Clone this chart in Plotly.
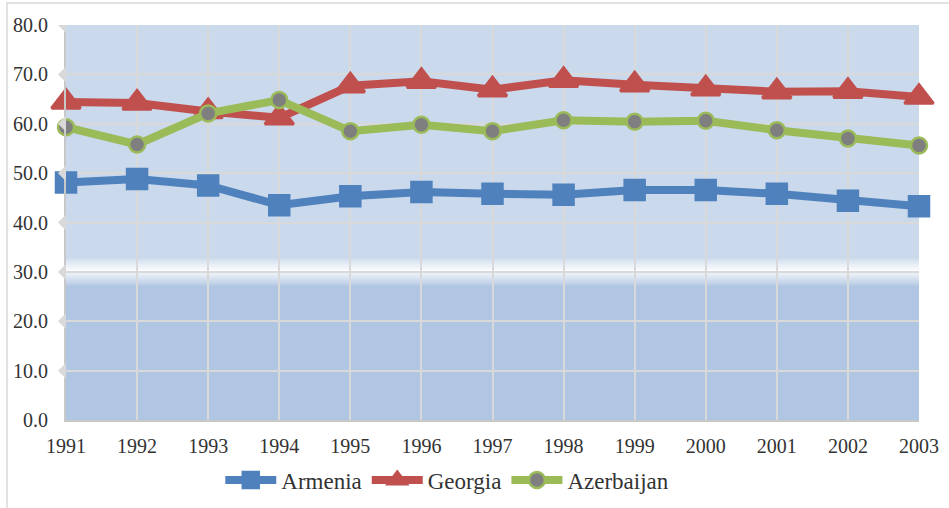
import plotly.graph_objects as go

years = ["1991", "1992", "1993", "1994", "1995", "1996", "1997",
         "1998", "1999", "2000", "2001", "2002", "2003"]
armenia = [48.1, 48.8, 47.5, 43.5, 45.3, 46.2, 45.8, 45.6, 46.6, 46.6, 45.8, 44.4, 43.3]
georgia = [64.4, 64.2, 62.5, 61.2, 67.7, 68.6, 66.9, 68.8, 67.9, 67.1, 66.5, 66.6, 65.4]
azerbaijan = [59.3, 55.8, 62.1, 64.8, 58.5, 59.8, 58.5, 60.7, 60.4, 60.6, 58.7, 57.0, 55.6]
y_ticks = [0, 10, 20, 30, 40, 50, 60, 70, 80]

FONT = "Liberation Serif"
TXT = "#333333"
UPPER = (202, 217, 235)
LOWER = (177, 198, 226)
GRID = "#D9D9D9"

fig = go.Figure()
fig.add_trace(go.Scatter(
    x=years, y=armenia, name="Armenia", mode="lines+markers",
    line=dict(color="#4F81BD", width=8),
    marker=dict(symbol="square", size=20, color="#4F81BD",
                line=dict(color="#4F81BD", width=2.5)),
    cliponaxis=False))
fig.add_trace(go.Scatter(
    x=years, y=georgia, name="Georgia", mode="lines+markers",
    line=dict(color="#C0504D", width=8),
    marker=dict(symbol="triangle-up", size=25, color="#C0504D",
                line=dict(color="#C0504D", width=3)),
    cliponaxis=False))
fig.add_trace(go.Scatter(
    x=years, y=azerbaijan, name="Azerbaijan", mode="lines+markers",
    line=dict(color="#9BBB59", width=8),
    marker=dict(symbol="circle", size=16, color="#7F7F7F",
                line=dict(color="#9BBB59", width=2.5)),
    cliponaxis=False))

shapes = []
shapes.append(dict(type="rect", xref="paper", yref="y", x0=0, x1=1, y0=0, y1=30,
                   fillcolor="rgb(%d,%d,%d)" % LOWER, line=dict(width=0), layer="below"))
half = 2.8
n = 14
step = half / n
for i in range(-n, n):
    a = i * step
    b = a + step
    mid = (a + b) / 2
    w = max(0.0, 1 - abs(mid) / half) ** 0.8
    base = UPPER if mid > 0 else LOWER
    c = tuple(int(round(base[k] + (255 - base[k]) * w)) for k in range(3))
    shapes.append(dict(type="rect", xref="paper", yref="y", x0=0, x1=1,
                       y0=30 + a, y1=30 + b, fillcolor="rgb(%d,%d,%d)" % c,
                       line=dict(width=0), layer="below"))
for t in y_ticks[1:]:
    shapes.append(dict(type="path", xref="paper", yref="y", xsizemode="pixel",
                       ysizemode="pixel", xanchor=0, yanchor=t,
                       path="M 0 8 L -8 0 L 0 -8 Z", fillcolor=GRID,
                       line=dict(width=0), layer="above"))
shapes.append(dict(type="path", xref="paper", yref="paper",
                   path="M -0.0692 -0.3 L -0.0692 1.0557 L 1.2 1.0557",
                   line=dict(color="#D9D9D9", width=1.5)))

fig.update_layout(
    width=949, height=508,
    margin=dict(l=66, r=30, t=25, b=88, autoexpand=False),
    paper_bgcolor="white",
    plot_bgcolor="rgb(%d,%d,%d)" % UPPER,
    font=dict(family=FONT, size=20, color=TXT),
    showlegend=True,
    legend=dict(orientation="h", x=0.447, xanchor="center", y=-0.152, yanchor="middle",
                font=dict(family=FONT, size=23, color=TXT), bgcolor="rgba(0,0,0,0)",
                itemwidth=51, tracegroupgap=0),
    shapes=shapes,
)
fig.update_xaxes(type="category", range=[0, len(years) - 1], showgrid=True,
                 gridcolor=GRID, gridwidth=1.5, showline=True, linecolor="#C8C8C8",
                 linewidth=2, ticks="", ticklabelstandoff=7, automargin=False,
                 tickfont=dict(family=FONT, size=20, color=TXT), zeroline=False)
fig.update_yaxes(range=[0, 80], tickvals=y_ticks, tickformat=".1f", showgrid=True,
                 gridcolor=GRID, gridwidth=1.5, showline=True, linecolor="#C8C8C8",
                 linewidth=2, ticks="", ticklabelstandoff=12, automargin=False,
                 tickfont=dict(family=FONT, size=20, color=TXT), zeroline=False)

fig.write_html("out.html", config={"displayModeBar": False},
               post_script="document.body.style.margin='0px';document.body.style.overflow='hidden';")
